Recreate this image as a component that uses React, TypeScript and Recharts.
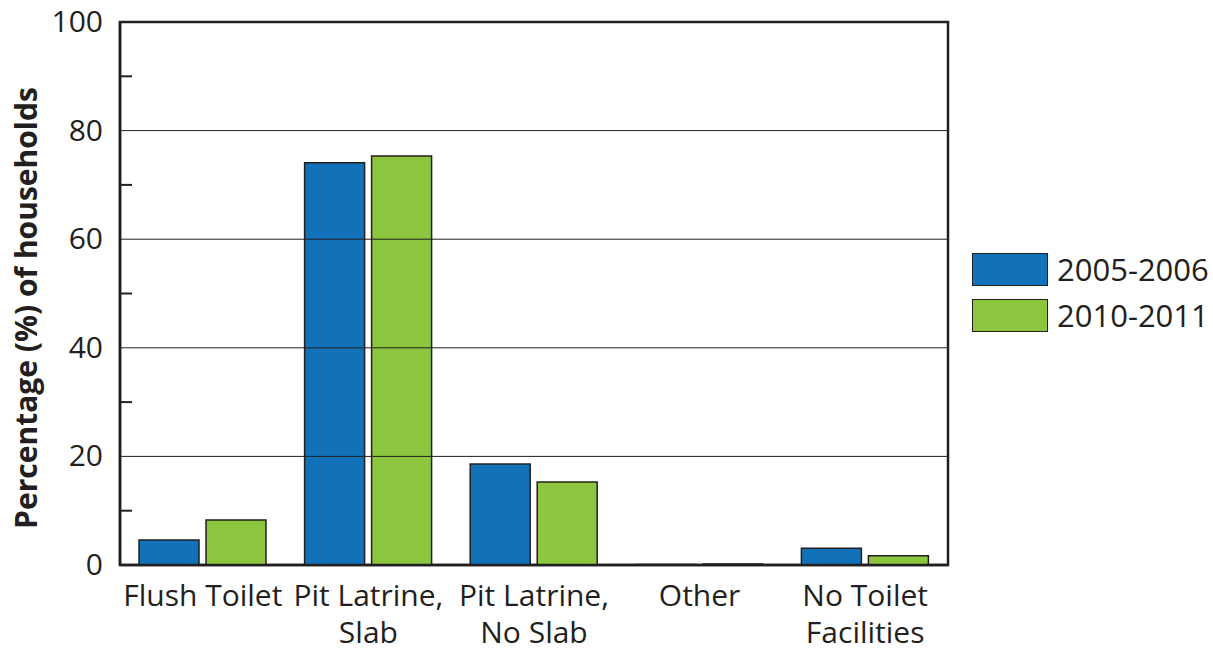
import { Bar, BarChart, Label, ReferenceArea, ReferenceLine, XAxis, YAxis } from 'recharts';

const categories = ['Flush Toilet', 'Pit Latrine, Slab', 'Pit Latrine, No Slab', 'Other', 'No Toilet Facilities'];
const categoryLines = [['Flush Toilet'], ['Pit Latrine,', 'Slab'], ['Pit Latrine,', 'No Slab'], ['Other'], ['No Toilet', 'Facilities']];
const series2005 = [4.6, 74.1, 18.6, 0.1, 3.1];
const series2010 = [8.3, 75.3, 15.3, 0.2, 1.7];
const seriesNames = ['2005-2006', '2010-2011'];
const seriesColors = ['#1172ba', '#8cc63f'];
const yTicks = [0, 10, 20, 30, 40, 50, 60, 70, 80, 90, 100];
const gridValues = [20, 40, 60, 80];

const INK = '#231f20';
const FONT = '"Open Sans", sans-serif';

const data = categories.map((c, i) => ({
  name: c,
  a: series2005[i],
  b: series2010[i],
}));

function YTick({ x, y, payload }: any) {
  const v = payload.value as number;
  if (v % 20 !== 0) {
    // minor tick, drawn inward from the axis
    return <line x1={x + 17} x2={x + 29} y1={y} y2={y} stroke={INK} strokeWidth={2} />;
  }
  return (
    <text x={x} y={y} dy={10} textAnchor="end" fontFamily={FONT} fontSize={30} fill={INK}>
      {v}
    </text>
  );
}

function XTick({ x, y, index }: any) {
  const lines = categoryLines[index] || [];
  return (
    <text x={x} y={y} textAnchor="middle" fontFamily={FONT} fontSize={30} fill={INK}>
      {lines.map((l, i) => (
        <tspan key={i} x={x} dy={i === 0 ? 41 : 37}>
          {l}
        </tspan>
      ))}
    </text>
  );
}

function LegendBox() {
  return (
    <div
      style={{
        position: 'absolute',
        left: 972,
        top: 253,
        fontFamily: FONT,
        fontSize: 31,
        color: INK,
        whiteSpace: 'nowrap',
        lineHeight: '33px',
      }}
    >
      {seriesNames.map((n, i) => (
        <div key={n} style={{ display: 'flex', alignItems: 'center', height: 33, marginBottom: 13 }}>
          <span
            style={{
              width: 74,
              height: 31,
              background: seriesColors[i],
              border: `1.5px solid ${INK}`,
              marginRight: 9,
              display: 'inline-block',
            }}
          />
          <span>{n}</span>
        </div>
      ))}
    </div>
  );
}

export default function App() {
  return (
    <div style={{ position: 'absolute', left: 0, top: 0, width: 1213, height: 652, background: '#fff' }}>
      <BarChart
        width={1213}
        height={652}
        data={data}
        margin={{ top: 22, right: 265, bottom: 0, left: 0 }}
        barCategoryGap={19}
        barGap={7}
      >
        {gridValues.map((v) => (
          <ReferenceLine key={v} y={v} stroke={INK} strokeWidth={1} />
        ))}
        <XAxis
          dataKey="name"
          tick={<XTick />}
          tickLine={false}
          tickSize={0}
          tickMargin={0}
          axisLine={{ stroke: INK, strokeWidth: 2.5 }}
          interval={0}
          height={87}
        />
        <YAxis
          width={120}
          domain={[0, 100]}
          ticks={yTicks}
          interval={0}
          tick={<YTick />}
          tickLine={false}
          tickSize={0}
          tickMargin={17}
          axisLine={{ stroke: INK, strokeWidth: 2.5 }}
        >
          <Label
            content={() => (
              <text
                x={37}
                y={308}
                transform="rotate(-90 37 308)"
                textAnchor="middle"
                fontFamily={FONT}
                fontWeight="bold"
                fontSize={30}
                fill={INK}
              >
                Percentage (%) of households
              </text>
            )}
          />
        </YAxis>
        <Bar dataKey="a" name={seriesNames[0]} fill={seriesColors[0]} stroke={INK} strokeWidth={1.5} isAnimationActive={false} />
        <Bar dataKey="b" name={seriesNames[1]} fill={seriesColors[1]} stroke={INK} strokeWidth={1.5} isAnimationActive={false} />
        <ReferenceArea y1={0} y2={100} fill="none" stroke={INK} strokeWidth={2.5} ifOverflow="visible" />
      </BarChart>
      <LegendBox />
    </div>
  );
}
